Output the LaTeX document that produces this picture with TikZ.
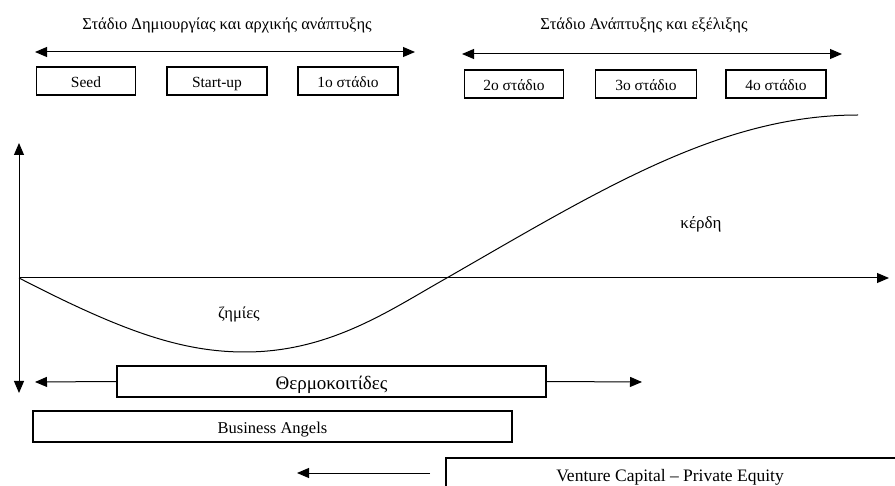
\documentclass[tikz,border=0pt]{standalone}
\usepackage{fontspec}
\setmainfont{Liberation Serif}
\usetikzlibrary{arrows.meta}
\tikzset{
  label/.style={font=\fontsize{#1}{#1}\selectfont, inner sep=0pt, text height={0.8*#1pt}, text depth=0pt},
  label/.default=16.5,
  stage/.style={draw, line width=1.1pt, minimum height=28pt, inner sep=0pt, label=15.5},
  fund/.style={draw, line width=1.1pt, minimum height=31pt, inner sep=0pt},
  tip/.style={-{Triangle[length=12pt, width=10pt]}},
  tips/.style={{Triangle[length=12pt, width=10pt]}-{Triangle[length=12pt, width=10pt]}}
}
\begin{document}
\begin{tikzpicture}[x=1pt, y=-1pt, line width=1pt]
\clip (0,0) rectangle (895,486);
\fill[white] (0,0) rectangle (895,486);
\node[label] (title1) at (227,23) {Στάδιο Δημιουργίας και αρχικής ανάπτυξης};
\node[label] (title2) at (644,23) {Στάδιο Ανάπτυξης και εξέλιξης};
\coordinate (a1l) at (35,52);
\coordinate (a1r) at (415,52);
\coordinate (a2l) at (462,54);
\coordinate (a2r) at (842,54);
\draw[tips] (a1l) -- (a1r);
\draw[tips] (a2l) -- (a2r);
\node[stage, minimum width=99pt] (seed) at (86,81) {Seed};
\node[stage, minimum width=100pt, line width=1.5pt] (startup) at (217,81) {Start-up};
\node[stage, minimum width=100pt] (st1) at (348,81) {1ο στάδιο};
\node[stage, minimum width=99pt] (st2) at (514,84) {2ο στάδιο};
\node[stage, minimum width=101pt] (st3) at (646,84) {3ο στάδιο};
\node[stage, minimum width=100pt] (st4) at (776,84) {4ο στάδιο};
\coordinate (o) at (19,278);
\coordinate (ytop) at (19,143);
\coordinate (ybot) at (19,393);
\coordinate (xend) at (889,278);
\draw[tip] (o) -- (ytop);
\draw[tip] (o) -- (ybot);
\draw[tip] (o) -- (xend);
\coordinate (cmin) at (245,352);
\coordinate (cx) at (445,279);
\coordinate (cend) at (858,115);
\draw (o) .. controls (120,330) and (180,352) .. (cmin)
  .. controls (330,352) and (390,310) .. (cx)
  .. controls (600,190) and (720,115) .. (cend);
\node[label] (loss) at (239,312) {ζημίες};
\node[label=17] (profit) at (701,222) {κέρδη};
\node[fund, minimum width=429pt, label=19] (incub) at (331.5,381.5) {Θερμοκοιτίδες};
\coordinate (incl) at (35,382);
\coordinate (incr) at (642,382);
\draw[tip] (incub.west) -- (incl);
\draw[tip] (incub.east) -- (incr);
\node[fund, minimum width=479pt, label] (angels) at (272.5,426.5) {Business Angels};
\node[fund, minimum width=480pt, minimum height=44pt] (vc) at (686,480) {};
\node[label=17.5] (vctext) at (670,474) {Venture Capital – Private Equity};
\coordinate (vcl) at (297,473);
\coordinate (vcr) at (430,473);
\draw[tip] (vcr) -- (vcl);
\end{tikzpicture}
\end{document}
